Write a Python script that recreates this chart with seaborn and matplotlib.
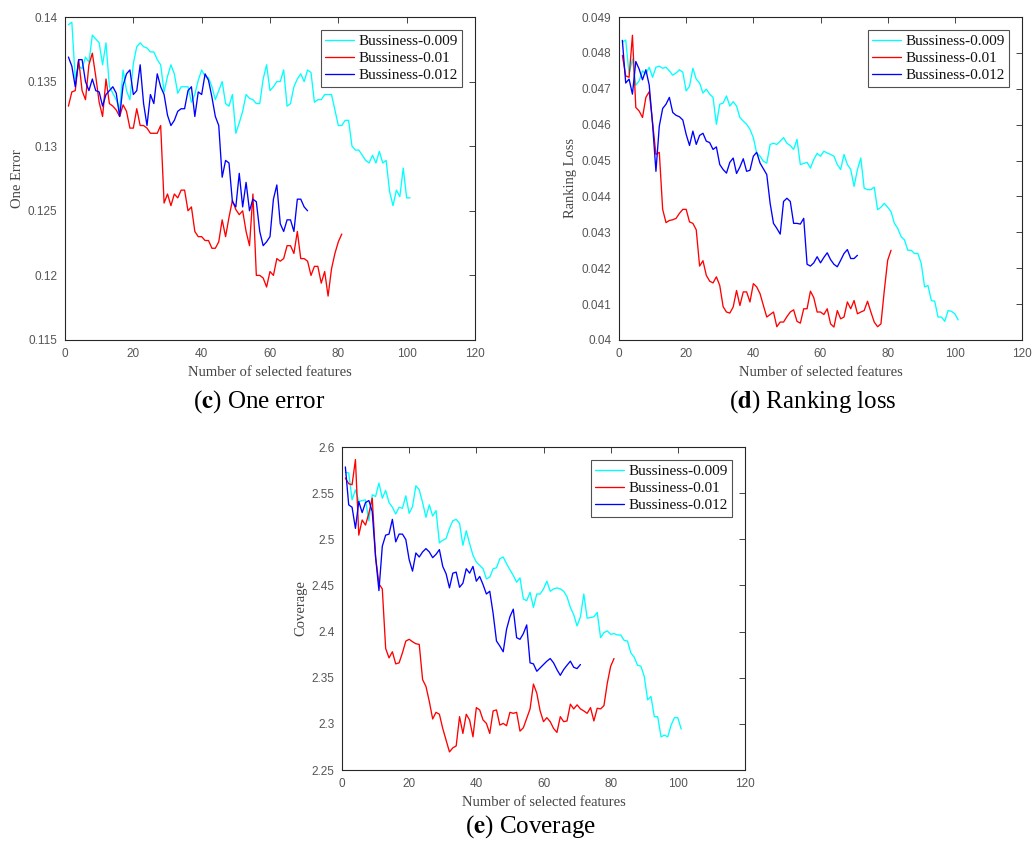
import numpy as np
import pandas as pd
import matplotlib
matplotlib.use("Agg")
import matplotlib.pyplot as plt
import seaborn as sns
from matplotlib.ticker import FormatStrFormatter, MultipleLocator

# series labels and colours
series_names = ["Bussiness-0.009", "Bussiness-0.01", "Bussiness-0.012"]
series_colors = ["#00FFFF", "#FF0000", "#0000FF"]

# (c) One error
one_err_009 = [.1394, .1396, .1352, .1362, .1360, .1369, .1365, .1386, .1383, .1380,
               .1363, .1380, .1346, .1341, .1336, .1328, .1359, .1343, .1336, .1364,
               .1377, .1380, .1377, .1376, .1373, .1373, .1367, .1363, .1342, .1354,
               .1363, .1356, .1341, .1346, .1346, .1346, .1334, .1340, .1351, .1359,
               .1354, .1353, .1346, .1336, .1343, .1350, .1333, .1331, .1340, .1310,
               .1318, .1327, .1340, .1337, .1336, .1333, .1333, .1352, .1363, .1343,
               .1346, .1350, .1350, .1359, .1331, .1333, .1346, .1352, .1356, .1350,
               .1359, .1357, .1334, .1336, .1336, .1340, .1340, .1340, .1328, .1316,
               .1316, .1320, .1320, .1300, .1297, .1297, .1293, .1289, .1287, .1293,
               .1287, .1296, .1287, .1289, .1265, .1254, .1266, .1261, .1283, .1260,
               .1260]
one_err_010 = [.1331, .1342, .1343, .1367, .1343, .1336, .1363, .1372, .1354, .1334,
               .1323, .1352, .1333, .1331, .1328, .1323, .1332, .1327, .1314, .1314,
               .1329, .1316, .1316, .1314, .1310, .1310, .1310, .1316, .1256, .1263,
               .1254, .1263, .1260, .1266, .1266, .1250, .1253, .1234, .1230, .1230,
               .1227, .1227, .1221, .1221, .1226, .1243, .1230, .1245, .1258, .1251,
               .1247, .1250, .1234, .1223, .1263, .1200, .1200, .1198, .1191, .1203,
               .1200, .1213, .1211, .1213, .1223, .1223, .1217, .1234, .1213, .1213,
               .1211, .1200, .1207, .1207, .1194, .1203, .1184, .1205, .1217, .1226,
               .1232]
one_err_012 = [.1369, .1362, .1346, .1367, .1367, .1350, .1343, .1352, .1343, .1342,
               .1331, .1340, .1343, .1346, .1341, .1323, .1347, .1356, .1359, .1340,
               .1343, .1363, .1333, .1316, .1340, .1333, .1356, .1346, .1340, .1324,
               .1316, .1320, .1327, .1329, .1329, .1343, .1346, .1323, .1342, .1340,
               .1356, .1351, .1338, .1323, .1316, .1276, .1289, .1287, .1257, .1253,
               .1279, .1253, .1272, .1250, .1259, .1257, .1234, .1223, .1226, .1230,
               .1259, .1270, .1240, .1234, .1243, .1243, .1234, .1259, .1259, .1253,
               .1250]

# (d) Ranking loss
rank_009 = [.04830, .04836, .04741, .04783, .04710, .04722, .04750, .04741, .04760, .04732,
            .04760, .04763, .04757, .04760, .04750, .04738, .04744, .04753, .04746, .04694,
            .04707, .04757, .04727, .04716, .04688, .04699, .04685, .04676, .04601, .04657,
            .04660, .04680, .04652, .04664, .04652, .04620, .04610, .04601, .04587, .04564,
            .04521, .04512, .04498, .04493, .04545, .04548, .04545, .04554, .04564, .04548,
            .04542, .04531, .04559, .04489, .04492, .04495, .04479, .04503, .04520, .04512,
            .04526, .04521, .04517, .04512, .04489, .04475, .04517, .04489, .04475, .04428,
            .04475, .04507, .04423, .04419, .04419, .04426, .04363, .04370, .04381, .04370,
            .04358, .04325, .04311, .04288, .04279, .04250, .04250, .04241, .04241, .04213,
            .04148, .04152, .04110, .04108, .04064, .04064, .04052, .04082, .04080, .04073,
            .04056]
rank_010 = [.04793, .04736, .04732, .04849, .04648, .04638, .04620, .04676, .04692, .04606,
            .04517, .04523, .04364, .04327, .04333, .04335, .04339, .04353, .04364, .04364,
            .04329, .04325, .04307, .04206, .04221, .04180, .04164, .04159, .04176, .04152,
            .04093, .04078, .04075, .04092, .04138, .04096, .04134, .04134, .04106, .04157,
            .04148, .04129, .04096, .04064, .04071, .04078, .04037, .04050, .04050, .04065,
            .04078, .04084, .04052, .04047, .04087, .04087, .04136, .04118, .04078, .04078,
            .04071, .04087, .04045, .04036, .04082, .04059, .04064, .04106, .04087, .04110,
            .04073, .04078, .04082, .04108, .04078, .04050, .04037, .04045, .04138, .04222,
            .04250]
rank_012 = [.04835, .04716, .04727, .04685, .04776, .04755, .04725, .04753, .04710, .04601,
            .04470, .04596, .04645, .04657, .04676, .04634, .04626, .04622, .04613, .04573,
            .04542, .04582, .04545, .04570, .04576, .04554, .04550, .04531, .04538, .04489,
            .04475, .04465, .04495, .04507, .04464, .04482, .04505, .04470, .04473, .04512,
            .04523, .04493, .04477, .04461, .04381, .04325, .04311, .04295, .04386, .04395,
            .04386, .04325, .04325, .04323, .04339, .04211, .04206, .04215, .04232, .04215,
            .04230, .04243, .04224, .04211, .04204, .04222, .04241, .04252, .04227, .04227,
            .04236]

# (e) Coverage
cov_009 = [2.5726, 2.5719, 2.5427, 2.5536, 2.5409, 2.5420, 2.5427, 2.5201, 2.5482, 2.5464,
           2.5609, 2.5445, 2.5529, 2.5398, 2.5347, 2.5274, 2.5347, 2.5336, 2.5471, 2.5281,
           2.5354, 2.5580, 2.5536, 2.5398, 2.5238, 2.5373, 2.5252, 2.5311, 2.4961, 2.4990,
           2.5008, 2.5118, 2.5201, 2.5216, 2.5172, 2.4935, 2.5092, 2.4954, 2.4826, 2.4753,
           2.4717, 2.4681, 2.4571, 2.4589, 2.4681, 2.4691, 2.4790, 2.4808, 2.4735, 2.4670,
           2.4608, 2.4535, 2.4582, 2.4353, 2.4335, 2.4426, 2.4262, 2.4407, 2.4407, 2.4462,
           2.4546, 2.4437, 2.4462, 2.4473, 2.4462, 2.4437, 2.4378, 2.4262, 2.4182, 2.4061,
           2.4160, 2.4407, 2.4145, 2.4152, 2.4160, 2.4207, 2.3934, 2.3989, 2.4007, 2.3970,
           2.3978, 2.3963, 2.3963, 2.3905, 2.3898, 2.3770, 2.3723, 2.3635, 2.3624, 2.3515,
           2.3260, 2.3297, 2.3078, 2.3078, 2.2859, 2.2878, 2.2859, 2.2987, 2.3067, 2.3067,
           2.2943]
cov_010 = [2.5664, 2.5602, 2.5591, 2.5864, 2.5045, 2.5209, 2.5154, 2.5281, 2.5445, 2.4808,
           2.4517, 2.4462, 2.3817, 2.3715, 2.3781, 2.3650, 2.3661, 2.3770, 2.3897, 2.3916,
           2.3890, 2.3868, 2.3861, 2.3479, 2.3406, 2.3242, 2.3053, 2.3125, 2.3104, 2.2950,
           2.2823, 2.2696, 2.2740, 2.2761, 2.3078, 2.2896, 2.3104, 2.3042, 2.2859, 2.3176,
           2.3151, 2.3042, 2.3005, 2.2896, 2.3140, 2.3151, 2.2987, 2.3005, 2.2980, 2.3125,
           2.3114, 2.3125, 2.2921, 2.2958, 2.3060, 2.3162, 2.3431, 2.3333, 2.3140, 2.3024,
           2.3067, 2.3024, 2.2950, 2.2907, 2.3078, 2.3024, 2.3031, 2.3213, 2.3162, 2.3206,
           2.3162, 2.3140, 2.3114, 2.3176, 2.3031, 2.3169, 2.3162, 2.3198, 2.3442, 2.3624,
           2.3708]
cov_012 = [2.5784, 2.5373, 2.5347, 2.5118, 2.5409, 2.5289, 2.5398, 2.5420, 2.5300, 2.4808,
           2.4444, 2.4925, 2.5045, 2.5056, 2.5216, 2.4972, 2.5056, 2.5056, 2.4997, 2.4779,
           2.4655, 2.4852, 2.4808, 2.4863, 2.4899, 2.4863, 2.4801, 2.4837, 2.4888, 2.4706,
           2.4626, 2.4473, 2.4633, 2.4644, 2.4480, 2.4524, 2.4681, 2.4633, 2.4706, 2.4546,
           2.4597, 2.4509, 2.4407, 2.4437, 2.4196, 2.3898, 2.3843, 2.3781, 2.4025, 2.4160,
           2.4243, 2.3934, 2.3916, 2.3978, 2.4072, 2.3661, 2.3650, 2.3570, 2.3606, 2.3643,
           2.3679, 2.3708, 2.3661, 2.3588, 2.3526, 2.3588, 2.3635, 2.3679, 2.3613, 2.3599,
           2.3643]


def to_frame(curves):
    parts = []
    for name, vals in zip(series_names, curves):
        parts.append(pd.DataFrame({"n": np.arange(1, len(vals) + 1), "val": vals, "set": name}))
    return pd.concat(parts, ignore_index=True)


sns.set_theme(style="white")
plt.rcParams["font.family"] = ["Liberation Serif", "DejaVu Serif"]
plt.rcParams["mathtext.fontset"] = "stix"

fig = plt.figure(figsize=(10.35, 8.43), dpi=100)
W, H = 1035, 843

panels = [
    # curves, ylabel, ylim, ystep, axes box in px (left, top, right, bottom), caption, caption pos
    ([one_err_009, one_err_010, one_err_012], "One Error", (0.115, 0.14), 0.005,
     (65, 17, 475, 340), r"($\mathbf{c}$) One error", (259, 402)),
    ([rank_009, rank_010, rank_012], "Ranking Loss", (0.04, 0.049), 0.001,
     (619, 17, 1022, 340), r"($\mathbf{d}$) Ranking loss", (813, 402)),
    ([cov_009, cov_010, cov_012], "Coverage", (2.25, 2.6), 0.05,
     (342, 447, 745, 770), r"($\mathbf{e}$) Coverage", (531, 827)),
]

for curves, ylab, ylim, ystep, box, cap, cap_xy in panels:
    l, t, r, b = box
    ax = fig.add_axes([l / W, 1 - b / H, (r - l) / W, (b - t) / H])
    df = to_frame(curves)
    sns.lineplot(data=df, x="n", y="val", hue="set", hue_order=series_names,
                 palette=series_colors, linewidth=0.95, legend=False, ax=ax)
    ax.set_xlim(0, 120)
    ax.set_ylim(*ylim)
    ax.xaxis.set_major_locator(MultipleLocator(20))
    ax.yaxis.set_major_locator(MultipleLocator(ystep))
    ax.yaxis.set_major_formatter(FormatStrFormatter("%g"))
    ax.tick_params(direction="in", top=True, right=True, length=4, width=0.6,
                   labelsize=8.5, colors="#262626")
    ax.tick_params(axis="x", pad=6)
    ax.tick_params(axis="y", pad=5.5)
    for lbl in ax.get_xticklabels() + ax.get_yticklabels():
        lbl.set_family("Liberation Sans")
        lbl.set_color("#555555")
    for sp in ax.spines.values():
        sp.set_color("#262626")
        sp.set_linewidth(0.8)
    ax.set_xlabel("Number of selected features", fontsize=10.5, labelpad=4, color="#444444")
    ax.set_ylabel(ylab, fontsize=10.5, labelpad=3, color="#444444")
    leg = ax.legend(ax.lines, series_names, loc="upper right", fontsize=11,
                    frameon=True, fancybox=False, edgecolor="#262626",
                    handlelength=1.9, handletextpad=0.25, borderpad=0.3,
                    labelspacing=0.22, borderaxespad=0.85)
    leg.get_frame().set_linewidth(0.8)
    for txt in leg.get_texts():
        txt.set_color("#111111")
    fig.text(cap_xy[0] / W, 1 - cap_xy[1] / H, cap, ha="center", va="center",
             fontsize=18, color="black")

fig.savefig("out.png", dpi=100)
